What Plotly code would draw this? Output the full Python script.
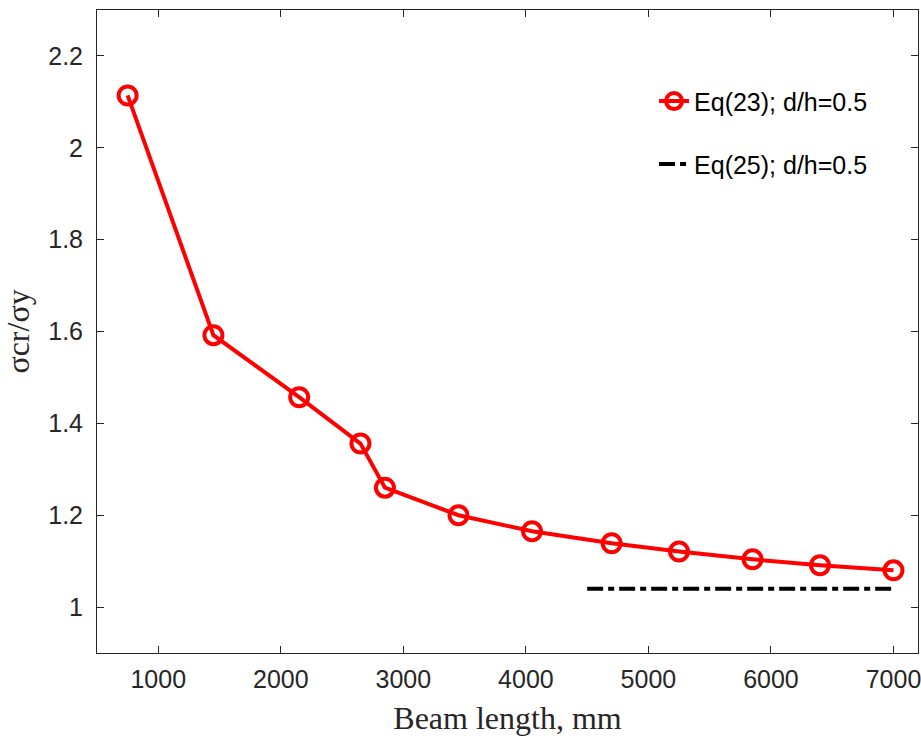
import plotly.graph_objects as go

beam_length = [750, 1450, 2150, 2650, 2850, 3450, 4050, 4700, 5250, 5850, 6400, 7000]
ratio_eq23 = [2.114, 1.592, 1.457, 1.356, 1.260, 1.200, 1.165, 1.139, 1.121, 1.104, 1.091, 1.080]
eq25_x = [4500, 7000]
eq25_y = [1.04, 1.04]
x_ticks = [1000, 2000, 3000, 4000, 5000, 6000, 7000]
y_ticks = [1.0, 1.2, 1.4, 1.6, 1.8, 2.0, 2.2]

fig = go.Figure()
fig.add_trace(go.Scatter(
    x=beam_length, y=ratio_eq23, mode="lines+markers",
    name="Eq(23); d/h=0.5",
    line=dict(color="#ff0000", width=4),
    marker=dict(symbol="circle-open", size=18, color="#ff0000", line=dict(width=4, color="#ff0000")),
    legend="legend",
))
fig.add_trace(go.Scatter(
    x=eq25_x, y=eq25_y, mode="lines",
    name="Eq(25); d/h=0.5",
    line=dict(color="#000000", width=4, dash="16px,5px,6px,5px"),
    legend="legend2",
))

axis_common = dict(
    showgrid=False, zeroline=False, showline=True, linecolor="#262626", linewidth=1,
    mirror="allticks", ticks="inside", ticklen=7, tickcolor="#262626", tickwidth=1,
    automargin=False, ticklabeloverflow="allow",
    tickfont=dict(family="Liberation Sans, Arial, sans-serif", size=25, color="#262626"),
)

fig.update_layout(
    width=921, height=743,
    margin=dict(l=97, r=3, t=10, b=90),
    plot_bgcolor="white", paper_bgcolor="white",
    xaxis=dict(range=[500, 7200], tickvals=x_ticks, ticktext=[str(v) for v in x_ticks],
               ticklabelstandoff=4,
               title=dict(text="Beam length, mm", standoff=14,
                          font=dict(family="Liberation Serif, Times New Roman, serif", size=32, color="#262626")),
               **axis_common),
    yaxis=dict(range=[0.9, 2.3], tickvals=y_ticks, ticktext=[("%g" % v) for v in y_ticks],
               ticklabelstandoff=8,
               title=dict(text="σcr/σy", standoff=12,
                          font=dict(family="Liberation Serif, Times New Roman, serif", size=32, color="#262626")),
               **axis_common),
    legend=dict(x=0.6785, y=0.858, xanchor="left", yanchor="middle", bgcolor="rgba(0,0,0,0)",
                font=dict(family="Liberation Sans, Arial, sans-serif", size=25, color="#000000")),
    legend2=dict(x=0.6785, y=0.760, xanchor="left", yanchor="middle", bgcolor="rgba(0,0,0,0)",
                 font=dict(family="Liberation Sans, Arial, sans-serif", size=25, color="#000000")),
    showlegend=True,
)

fig.write_html("out.html", config={"displayModeBar": False},
               post_script="document.body.style.margin='0';document.body.style.overflow='hidden';")
